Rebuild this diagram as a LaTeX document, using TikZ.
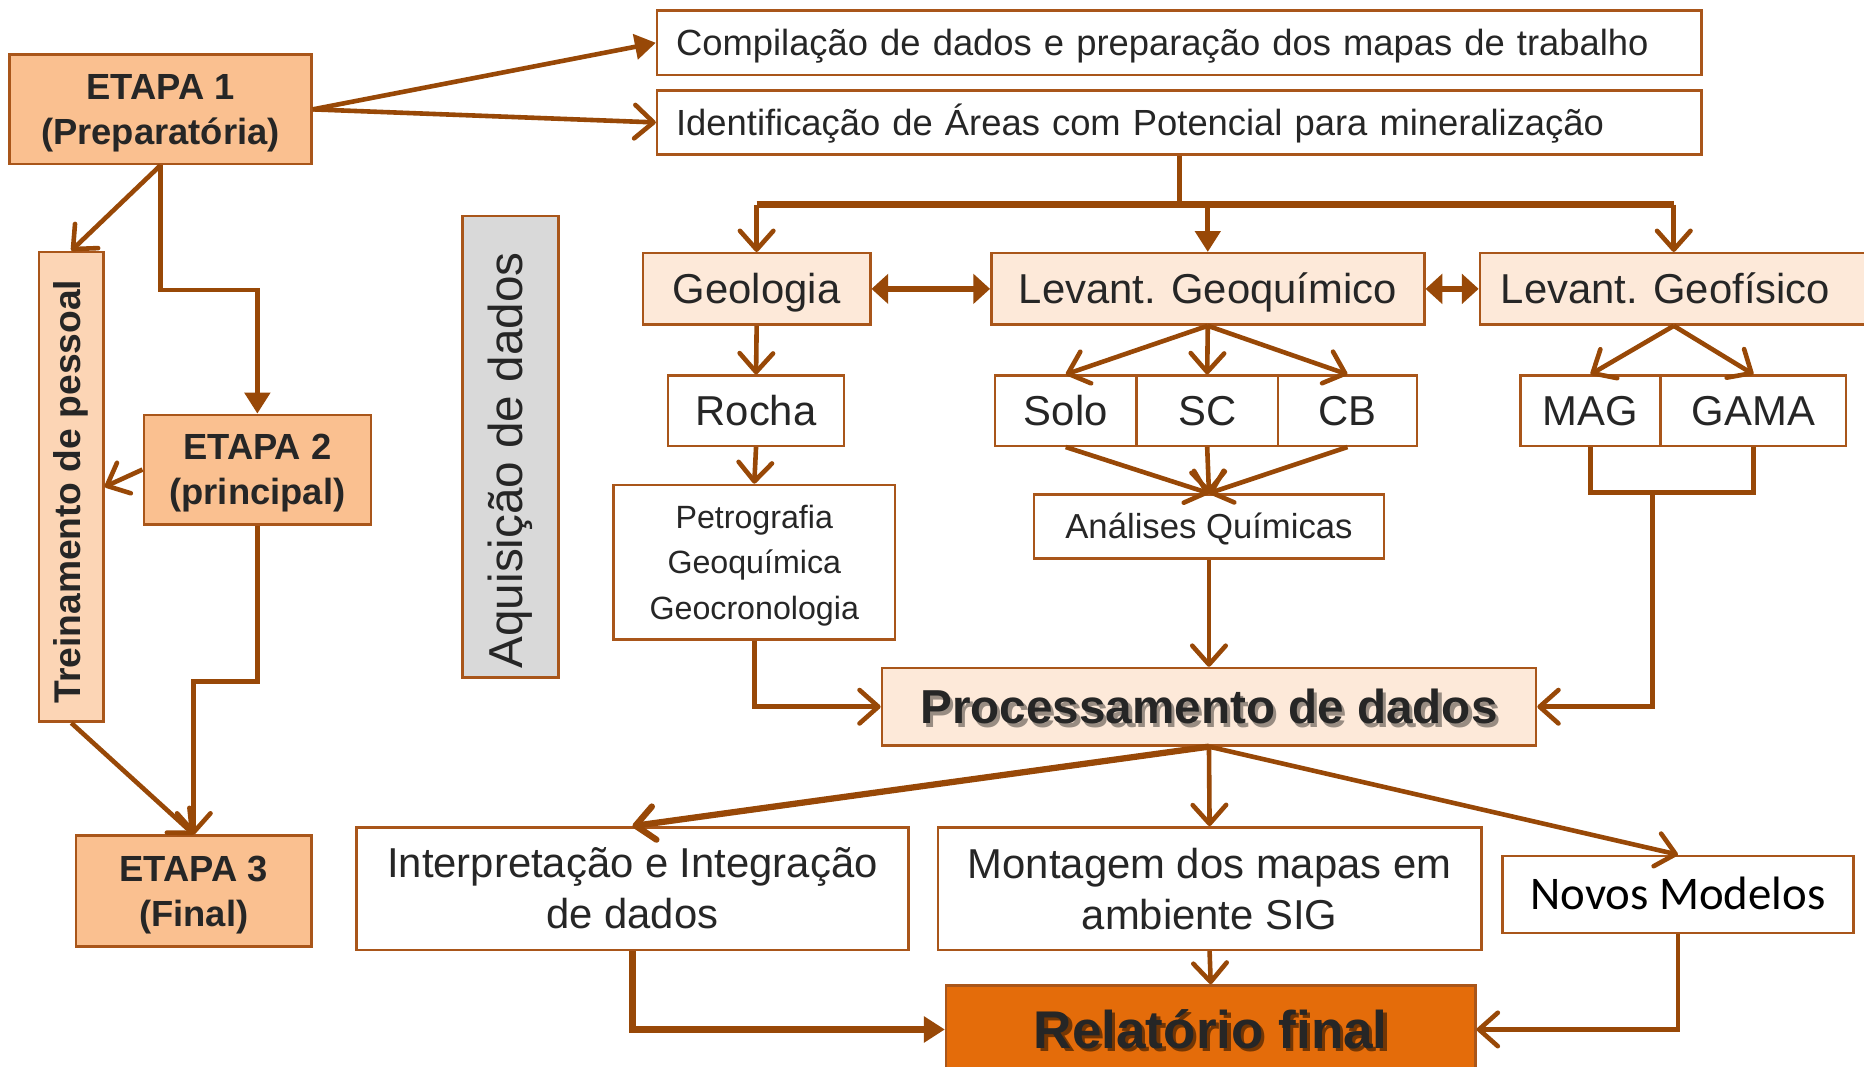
\documentclass[tikz,border=0pt]{standalone}
\usepackage{fontspec}
\setmainfont{Liberation Sans}
\newfontfamily\calibri{Carlito}
\usetikzlibrary{arrows.meta}

\definecolor{marrom}{HTML}{984807}
\definecolor{borda}{HTML}{A9561A}
\definecolor{texto}{HTML}{262626}
\definecolor{etapafill}{HTML}{FAC090}
\definecolor{treinfill}{HTML}{FCD5B5}
\definecolor{clarafill}{HTML}{FDE9D9}
\definecolor{cinzafill}{HTML}{D9D9D9}
\definecolor{finalfill}{HTML}{E46C0A}

\newcommand{\tam}[2]{\fontsize{#1}{#2}\selectfont}
\newcommand{\sombra}[2]{\makebox[0pt][l]{\hspace{0.8pt}\raisebox{-0.8pt}{\textcolor{#1}{#2}}}#2}
\newcommand{\caixa}[6][branca]{
    \node[#1, minimum width=#4cm, minimum height=#5cm] (#2) at (#3) {#6};
}

\tikzset{
    base/.style={draw=borda, line width=0.6pt, inner sep=0pt, text=texto, align=center},
    etapa/.style={base, fill=etapafill, font=\bfseries\tam{8.7}{10.8}, text depth=0pt},
    bloco/.style={base, fill=white, font=\tam{10}{12.2}},
    branca/.style={bloco, text height=9.2pt, text depth=2pt},
    clara/.style={base, fill=clarafill, font=\tam{10}{12}, text height=9.2pt, text depth=2pt},
    linha/.style={draw=marrom, line width=1.1pt},
    aberta/.style={linha, -{Straight Barb[length=4.5pt, width=8pt, round]}},
    cheia/.style={linha, -{Triangle[length=5pt, width=6pt]}},
    dupla/.style={linha, line width=1.6pt, {Triangle[length=4pt, width=7pt]}-{Triangle[length=4pt, width=7pt]}}
}

\begin{document}
\begin{tikzpicture}[x=0.01cm, y=-0.01cm]
	\path[use as bounding box, fill=white] (0,0) rectangle (1568,897);

	% etapas
	\caixa[etapa]{etapa1}{135,92}{2.54}{0.92}{ETAPA 1\\(Preparatória)};
	\caixa[etapa]{etapa2}{216.5,395}{1.91}{0.92}{ETAPA 2\\(principal)};
	\caixa[etapa]{etapa3}{163,749.5}{1.98}{0.93}{ETAPA 3\\(Final)};
	\caixa[base, fill=treinfill, font=\bfseries\tam{8.9}{10}]{trein}{60,409.5}{0.54}{3.95}{\rotatebox{90}{Treinamento de pessoal\hspace{2.3pt}}};
	\caixa[base, fill=cinzafill, font=\tam{11.4}{13}]{aquis}{429.5,376}{0.81}{3.88}{\rotatebox{90}{Aquisição de dados\hspace{6.4pt}}};

	% preparacao
	\caixa[branca, font=\tam{8.7}{10}, text height=8.2pt, text width=8.46cm, align=left]{compil}{992,36}{8.78}{0.54}{Compilação de dados e preparação dos mapas de trabalho};
	\caixa[branca, font=\tam{8.7}{10}, text height=8.2pt, text width=8.46cm, align=left]{ident}{992,103}{8.78}{0.54}{Identificação de Áreas com Potencial para mineralização};

	% levantamentos
	\caixa[clara]{geol}{636.5,243}{1.91}{0.60}{Geologia};
	\caixa[clara]{geoq}{1016,243}{3.64}{0.60}{Levant. Geoquímico};
	\caixa[clara]{geof}{1408,243}{3.26}{0.60}{Levant. Geofísico\hspace{4pt}};
	\caixa{rocha}{636,345.5}{1.48}{0.59}{Rocha};
	\caixa[bloco, font=\tam{7.7}{10.8}, text depth=0pt]{petro}{634.5,473}{2.37}{1.30}{Petrografia\\Geoquímica\\Geocronologia};
	\caixa{solo}{896.5,345.5}{1.19}{0.59}{Solo};
	\caixa{sc}{1015.5,345.5}{1.19}{0.59}{SC};
	\caixa{cb}{1133.5,345.5}{1.17}{0.59}{CB};
	\caixa[branca, font=\tam{8.3}{10}, text height=7.9pt]{anal}{1017,443}{2.94}{0.54}{Análises Químicas};
	\caixa{mag}{1338,345.5}{1.18}{0.59}{MAG};
	\caixa{gama}{1475,345.5}{1.56}{0.59}{GAMA};

	% resultados
	\caixa[clara, font=\bfseries\tam{11.4}{13}, text height=10.2pt]{proc}{1017,594.5}{5.50}{0.65}{\sombra{black!40!clarafill}{Processamento de dados}};
	\caixa[bloco]{interp}{532,747.5}{4.64}{1.03}{Interpretação e Integração\\de dados};
	\caixa[bloco]{mont}{1017.5,747.5}{4.57}{1.03}{Montagem dos mapas em\\ambiente SIG};
	\caixa[branca, font=\calibri\tam{11.2}{13}, text=black]{novos}{1411.5,752.5}{2.95}{0.65}{Novos Modelos};
	\caixa[base, fill=finalfill, font=\bfseries\tam{12.7}{14}, text height=11.1pt, text depth=2pt]{relat}{1018.5,866}{4.45}{0.74}{\sombra{black!50!finalfill}{Relatório final}};

	% ligacoes das etapas
	\draw[cheia] (etapa1.east) -- (compil.west);
	\draw[aberta] (etapa1.east) -- (ident.west);
	\draw[aberta] (etapa1.south) -- (trein.north);
	\draw[cheia] (etapa1.south) -- ++(0,105) -| (etapa2.north);
	\draw[aberta] (etapa2.west) -- (trein.east);
	\draw[aberta] (etapa2.south) -- ++(0,131) -| (etapa3.north);
	\draw[aberta] (trein.south) -- (etapa3.north);

	% aquisicao
	\draw[linha] (ident.south) -- ++(0,41) coordinate (ramo);
	\draw[linha, line width=1.8pt] (ramo -| geol.north) -- (ramo -| geof.north);
	\draw[aberta] (ramo -| geol.north) -- (geol.north);
	\draw[cheia] (ramo -| geoq.north) -- (geoq.north);
	\draw[aberta] (ramo -| geof.north) -- (geof.north);
	\draw[dupla] (geol.east) -- (geoq.west);
	\draw[dupla] (geoq.east) -- (geof.west);
	\draw[aberta] (geol.south) -- (rocha.north);
	\draw[aberta] (rocha.south) -- (petro.north);
	\foreach \destino in {solo, sc, cb}
		\draw[aberta] (geoq.south) -- (\destino.north);
	\foreach \origem in {solo, sc, cb}
		\draw[aberta] (\origem.south) -- (anal.north);
	\draw[aberta] (geof.south) -- (mag.north);
	\draw[aberta] (geof.south) -- (gama.north);
	\draw[linha] (mag.south) -- ++(0,38) -| (gama.south);
	\coordinate (junta) at (1390,413);
	\draw[aberta] (junta) |- (proc.east);
	\draw[aberta] (petro.south) |- (proc.west);
	\draw[aberta] (anal.south) -- (proc.north);

	% processamento
	\draw[aberta, line width=1.5pt] (proc.south) -- (interp.north);
	\draw[aberta] (proc.south) -- (mont.north);
	\draw[aberta] (proc.south) -- (novos.north);
	\draw[aberta] (mont.south) -- (relat.north);
	\draw[cheia, line width=1.5pt] (interp.south) |- (relat.west);
	\draw[aberta] (novos.south) |- (relat.east);
\end{tikzpicture}
\end{document}
